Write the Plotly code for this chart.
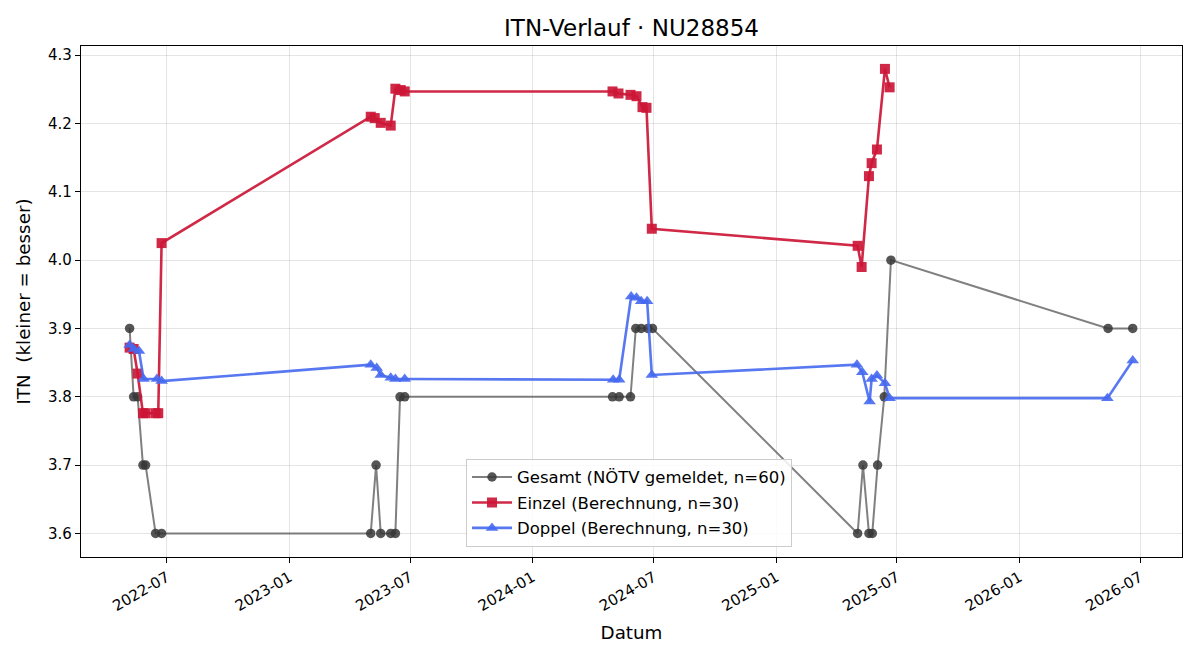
import plotly.graph_objects as go

# Gesamt (reported)
gesamt_dates = [
    "2022-05-06", "2022-05-12", "2022-05-18", "2022-05-26", "2022-05-30", "2022-06-14", "2022-06-23",
    "2023-05-03", "2023-05-11", "2023-05-18", "2023-06-02", "2023-06-09", "2023-06-16", "2023-06-23",
    "2024-04-30", "2024-05-10", "2024-05-27", "2024-06-04", "2024-06-12", "2024-06-22", "2024-06-29",
    "2025-05-03", "2025-05-11", "2025-05-20", "2025-05-25", "2025-06-02", "2025-06-12", "2025-06-22",
    "2026-05-14", "2026-06-20",
]
gesamt_vals = [
    3.9, 3.8, 3.8, 3.7, 3.7, 3.6, 3.6,
    3.6, 3.7, 3.6, 3.6, 3.6, 3.8, 3.8,
    3.8, 3.8, 3.8, 3.9, 3.9, 3.9, 3.9,
    3.6, 3.7, 3.6, 3.6, 3.7, 3.8, 4.0,
    3.9, 3.9,
]

# Einzel (computed)
einzel_dates = [
    "2022-05-06", "2022-05-12", "2022-05-18", "2022-05-26", "2022-05-30", "2022-06-14", "2022-06-18", "2022-06-23",
    "2023-05-03", "2023-05-09", "2023-05-18", "2023-06-02", "2023-06-09", "2023-06-17", "2023-06-23",
    "2024-04-30", "2024-05-09", "2024-05-27", "2024-06-05", "2024-06-14", "2024-06-20", "2024-06-28",
    "2025-05-03", "2025-05-09", "2025-05-20", "2025-05-24", "2025-06-01", "2025-06-13", "2025-06-20",
]
einzel_vals = [
    3.872, 3.870, 3.834, 3.776, 3.776, 3.776, 3.776, 4.025,
    4.210, 4.208, 4.201, 4.197, 4.251, 4.249, 4.247,
    4.247, 4.244, 4.242, 4.240, 4.224, 4.223, 4.046,
    4.021, 3.990, 4.123, 4.142, 4.162, 4.280, 4.253,
]

# Doppel (computed)
doppel_dates = [
    "2022-05-06", "2022-05-12", "2022-05-20", "2022-05-27", "2022-06-16", "2022-06-23",
    "2023-05-03", "2023-05-12", "2023-05-18", "2023-06-02", "2023-06-09", "2023-06-23",
    "2024-05-01", "2024-05-10", "2024-05-28", "2024-06-05", "2024-06-12", "2024-06-21", "2024-06-28",
    "2025-05-02", "2025-05-10", "2025-05-21", "2025-05-24", "2025-06-01", "2025-06-13", "2025-06-20",
    "2026-05-13", "2026-06-20",
]
doppel_vals = [
    3.876, 3.870, 3.867, 3.826, 3.826, 3.823,
    3.847, 3.842, 3.832, 3.828, 3.826, 3.826,
    3.825, 3.825, 3.947, 3.945, 3.940, 3.940, 3.832,
    3.847, 3.836, 3.793, 3.826, 3.831, 3.820, 3.798,
    3.798, 3.853,
]

x_ticks = ["2022-07-01", "2023-01-01", "2023-07-01", "2024-01-01", "2024-07-01",
           "2025-01-01", "2025-07-01", "2026-01-01", "2026-07-01"]
x_tick_labels = ["2022-07", "2023-01", "2023-07", "2024-01", "2024-07",
                 "2025-01", "2025-07", "2026-01", "2026-07"]
y_ticks = [3.6, 3.7, 3.8, 3.9, 4.0, 4.1, 4.2, 4.3]

FONT = "DejaVu Sans"

fig = go.Figure()
fig.add_trace(go.Scatter(
    x=gesamt_dates, y=gesamt_vals, mode="lines+markers",
    name="Gesamt (NÖTV gemeldet, n=60)", legendgroup="g",
    line=dict(color="rgba(85,85,85,0.75)", width=2),
    marker=dict(symbol="circle", size=9.5, color="rgba(55,55,55,0.85)"),
))
fig.add_trace(go.Scatter(
    x=einzel_dates, y=einzel_vals, mode="lines+markers",
    name="Einzel (Berechnung, n=30)", legendgroup="e",
    line=dict(color="rgba(204,22,55,0.92)", width=2.6),
    marker=dict(symbol="square", size=10, color="rgba(204,22,55,0.92)"),
))
fig.add_trace(go.Scatter(
    x=doppel_dates, y=doppel_vals, mode="lines+markers",
    name="Doppel (Berechnung, n=30)", legendgroup="d",
    line=dict(color="rgba(70,105,240,0.9)", width=2.6),
    marker=dict(symbol="triangle-up", size=11, color="rgba(70,105,240,0.9)"),
))

fig.update_layout(
    width=1200, height=660,
    margin=dict(l=81, r=18, t=46, b=103),
    paper_bgcolor="white", plot_bgcolor="white",
    font=dict(family=FONT, size=15, color="black"),
    title=dict(text="ITN-Verlauf · NU28854", xref="paper", x=0.5, xanchor="center",
               yref="container", y=0.957, yanchor="middle",
               font=dict(family=FONT, size=23, color="black")),
    legend=dict(x=0.3497, y=0.02, xanchor="left", yanchor="bottom",
                bgcolor="rgba(255,255,255,0.85)", bordercolor="#cccccc", borderwidth=1,
                font=dict(family=FONT, size=16.5), tracegroupgap=1, itemwidth=40,
                traceorder="grouped"),
    showlegend=True,
)
fig.update_xaxes(
    range=["2022-02-22", "2026-09-02"],
    tickvals=x_ticks, ticktext=x_tick_labels, tickangle=-30,
    showgrid=True, gridcolor="rgba(0,0,0,0.1)", gridwidth=1,
    showline=True, linecolor="black", linewidth=1.2, mirror=True,
    ticks="outside", ticklen=5, tickcolor="black",
    tickfont=dict(family=FONT, size=15),
    title=dict(text="Datum", font=dict(family=FONT, size=18.3), standoff=12),
    zeroline=False,
)
fig.update_yaxes(
    range=[3.5655, 4.3135],
    tickvals=y_ticks, tickformat=".1f",
    showgrid=True, gridcolor="rgba(0,0,0,0.1)", gridwidth=1,
    showline=True, linecolor="black", linewidth=1.2, mirror=True,
    ticks="outside", ticklen=5, tickcolor="black",
    tickfont=dict(family=FONT, size=15),
    title=dict(text="ITN  (kleiner = besser)", font=dict(family=FONT, size=18.3), standoff=12),
    zeroline=False,
)

fig.write_html("out.html")
